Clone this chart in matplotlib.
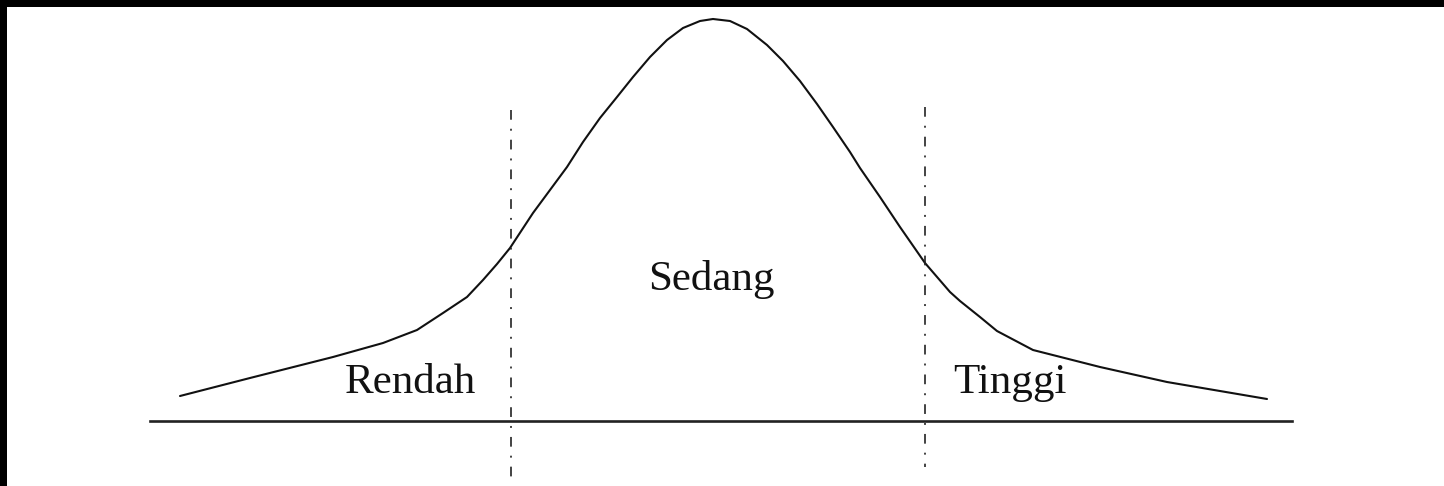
import matplotlib
matplotlib.use("Agg")
import matplotlib.pyplot as plt

# curve (x, y in image units, y grows downward)
curve_x = [180, 250, 333, 383, 417, 443, 467, 483, 497, 510, 533, 550, 567, 583,
           600, 617, 633, 650, 667, 683, 700, 713, 730, 747, 767, 783, 800, 817,
           833, 850, 860, 880, 900, 925, 950, 960, 980, 997, 1033, 1100, 1167, 1267]
curve_y = [396, 378, 357, 343, 330, 313, 297, 280, 264, 248, 213, 190, 167, 142,
           118, 97, 77, 57, 40, 28, 21, 19, 21, 29, 45, 61, 81, 104,
           127, 152, 168, 197, 227, 263, 292, 301, 317, 331, 350, 367, 382, 399]

base_x = [150, 1292]
base_y = 421

# class boundaries
cut_x = [511, 925]
cut_top = [110, 107]
cut_bottom = [483, 467]

labels = ["Rendah", "Sedang", "Tinggi"]
label_x = [410, 711, 1010]
label_y = [393, 290, 393]

W, H = 1444, 486
plt.rcParams['lines.scale_dashes'] = False

fig = plt.figure(figsize=(W / 100, H / 100), dpi=100, facecolor="black")
ax = fig.add_axes([7 / W, 0, 1 - 7 / W, 1 - 7 / H])
ax.set_facecolor("white")
ax.set_xlim(7, W)
ax.set_ylim(H, 7)
ax.set_xticks([])
ax.set_yticks([])
for sp in ax.spines.values():
    sp.set_visible(False)

ax.plot(curve_x, curve_y, color="#111111", lw=1.5,
        solid_joinstyle="round", solid_capstyle="round")
ax.plot(base_x, [base_y, base_y], color="#222222", lw=1.9)

for cx, t, b in zip(cut_x, cut_top, cut_bottom):
    ax.plot([cx, cx], [t, b], color="#222222", lw=1.2,
            linestyle=(0, (7, 6.5, 1.4, 6.5)))

for s, lx, ly in zip(labels, label_x, label_y):
    ax.text(lx, ly, s, ha="center", va="baseline", fontsize=31,
            family="Liberation Serif", color="#111111")

fig.savefig("out.png", dpi=100, facecolor="black")
